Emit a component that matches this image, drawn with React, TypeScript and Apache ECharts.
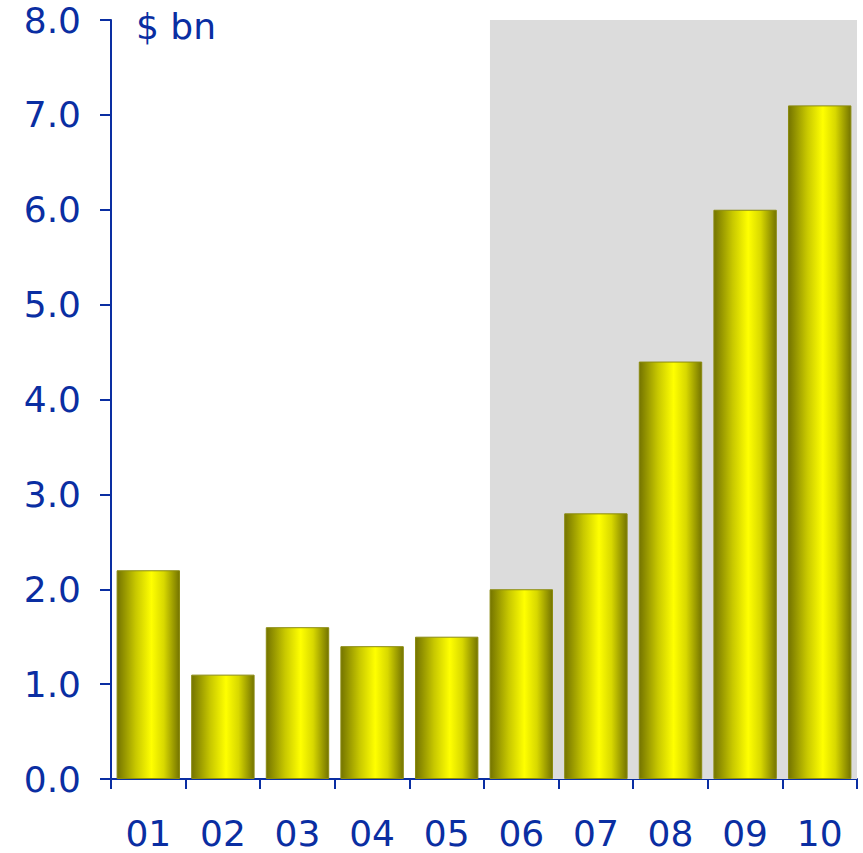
import React, { useEffect, useRef } from "react";
import * as echarts from "echarts";

const categories = ["01", "02", "03", "04", "05", "06", "07", "08", "09", "10"];
const values = [2.2, 1.1, 1.6, 1.4, 1.5, 2.0, 2.8, 4.4, 6.0, 7.1];
const yTicks = [0, 1, 2, 3, 4, 5, 6, 7, 8];
const unitLabel = "$ bn";
const shadeFrom = 5.08; // shaded forecast region starts at bar "06"
const shadeTo = 10;

const BLUE = "#0a2ea2";
const FONT = "DejaVu Sans";

export default function App() {
  const ref = useRef<HTMLDivElement>(null);
  useEffect(() => {
    if (!ref.current) return;
    const chart = echarts.init(ref.current, undefined, { renderer: "svg" });
    const barGradient = new echarts.graphic.LinearGradient(0, 0, 1, 0, [
      { offset: 0, color: "#747400" },
      { offset: 0.3, color: "#c8c800" },
      { offset: 0.55, color: "#ffff00" },
      { offset: 0.75, color: "#d8d800" },
      { offset: 1, color: "#747400" },
    ]);
    chart.setOption({
      animation: false,
      backgroundColor: "#ffffff",
      grid: { left: 111, right: 6, top: 20, bottom: 74, containLabel: false },
      xAxis: [
        {
          type: "category",
          data: categories,
          axisLine: { show: true, lineStyle: { color: BLUE, width: 2 } },
          axisTick: { show: true, length: 10, lineStyle: { color: BLUE, width: 2 } },
          axisLabel: { color: BLUE, fontSize: 36, fontFamily: FONT, margin: 36 },
          splitLine: { show: false },
        },
        {
          type: "value",
          min: 0,
          max: 10,
          show: false,
          splitLine: { show: false },
        },
      ],
      yAxis: {
        type: "value",
        min: yTicks[0],
        max: yTicks[yTicks.length - 1],
        interval: 1,
        axisLine: { show: true, lineStyle: { color: BLUE, width: 2 } },
        axisTick: { show: true, length: 11, lineStyle: { color: BLUE, width: 2 } },
        axisLabel: {
          color: BLUE,
          fontSize: 36,
          fontFamily: FONT,
          margin: 30,
          formatter: (v: number) => v.toFixed(1),
        },
        splitLine: { show: false },
      },
      graphic: [
        {
          type: "text",
          left: 136,
          top: 8,
          style: { text: unitLabel, fill: BLUE, fontSize: 36, fontFamily: FONT },
        },
      ],
      series: [
        {
          type: "line",
          xAxisIndex: 1,
          data: [],
          silent: true,
          markArea: {
            silent: true,
            itemStyle: { color: "#dcdcdc" },
            data: [[{ xAxis: shadeFrom, yAxis: yTicks[0] }, { xAxis: shadeTo, yAxis: yTicks[yTicks.length - 1] }]],
          },
          z: 0,
        },
        {
          type: "bar",
          data: values,
          barCategoryGap: "15%",
          itemStyle: { color: barGradient, borderColor: "#8a8a10", borderWidth: 1 },
          z: 2,
        },
      ],
    });
    return () => chart.dispose();
  }, []);
  return <div ref={ref} style={{ width: 863, height: 853, position: "absolute", left: 0, top: 0 }} />;
}
